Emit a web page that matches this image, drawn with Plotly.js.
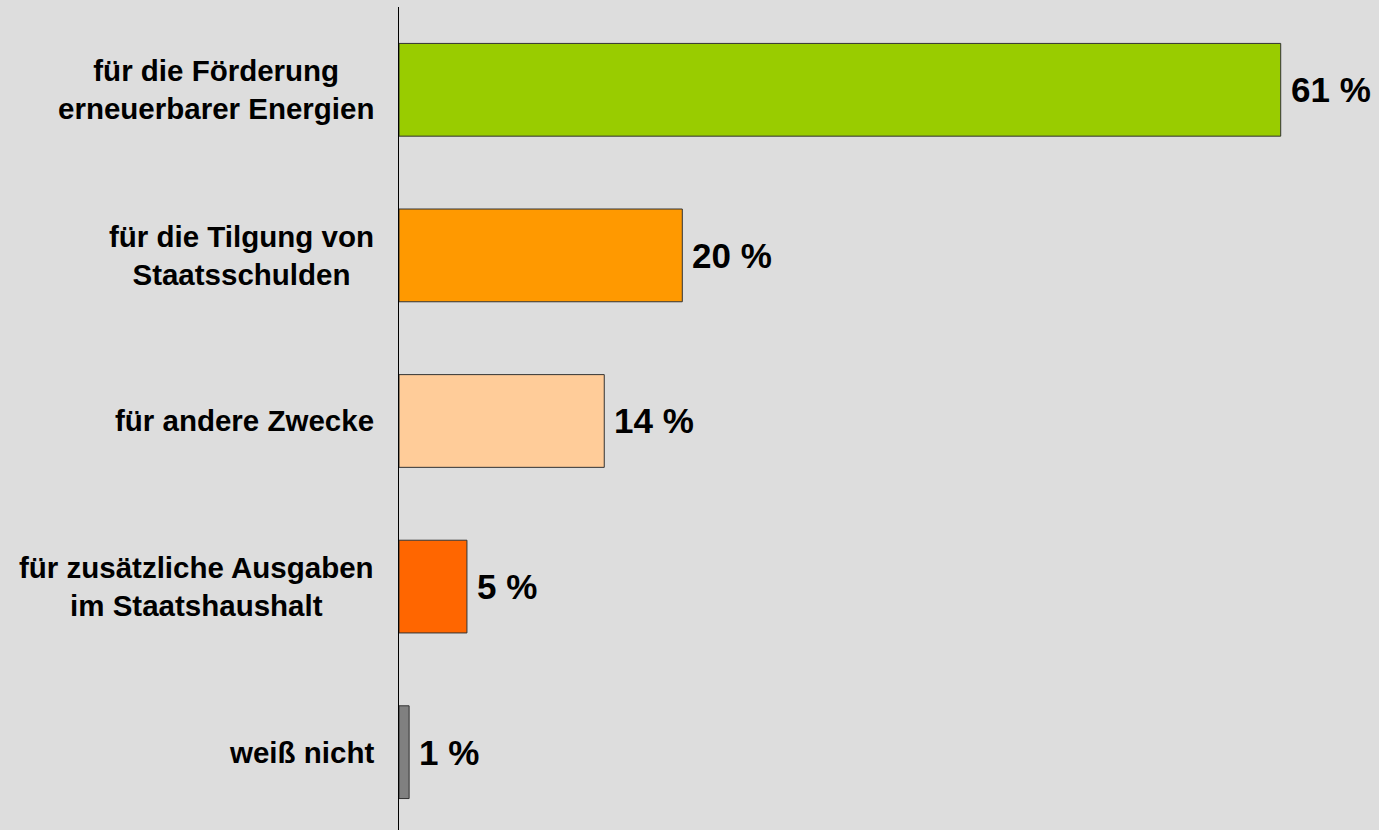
<!DOCTYPE html>
<html>
<head>
<meta charset="utf-8">
<script src="https://cdn.plot.ly/plotly-3.0.1.min.js"></script>
<style>html,body{margin:0;padding:0;background:#dddddd;}</style>
</head>
<body>
<div id="chart" style="width:1379px;height:830px;"></div>
<script>
const categories = [
  "für die Förderung<br>erneuerbarer Energien",
  "für die Tilgung von<br>Staatsschulden",
  "für andere Zwecke",
  "für zusätzliche Ausgaben<br>im Staatshaushalt",
  "weiß nicht"
];
const values = [61, 19.6, 14.2, 4.7, 0.7];
const valueLabels = ["61 %", "20 %", "14 %", "5 %", "1 %"];
const barColors = ["#99cc00", "#ff9900", "#ffcc99", "#ff6600", "#808080"];

const catIdx = categories.map((c, i) => i);

const trace = {
  type: "bar",
  orientation: "h",
  x: values,
  y: catIdx,
  width: 0.56,
  marker: { color: barColors, line: { color: "#333333", width: 1 } },
  hoverinfo: "skip"
};

const annotations = [];
categories.forEach((c, i) => {
  annotations.push({
    xref: "paper", yref: "y", x: 0, y: i,
    text: "<b>" + c + "</b>", showarrow: false,
    xanchor: "right", yanchor: "middle", align: "center",
    xshift: -23,
    font: { family: "Liberation Sans, Arial, sans-serif", size: 29.5, color: "#000000" }
  });
  annotations.push({
    xref: "x", yref: "y", x: values[i], y: i,
    text: "<b>" + valueLabels[i] + "</b>", showarrow: false,
    xanchor: "left", yanchor: "middle",
    xshift: 8,
    font: { family: "Liberation Sans, Arial, sans-serif", size: 35, color: "#000000" }
  });
});

const layout = {
  width: 1379, height: 830,
  margin: { l: 399, r: 0, t: 7, b: 0, pad: 0 },
  paper_bgcolor: "#dddddd",
  plot_bgcolor: "#dddddd",
  showlegend: false,
  xaxis: { range: [0, 67.8], visible: false, showgrid: false, zeroline: false, fixedrange: true },
  yaxis: {
    range: [4.47, -0.5], showticklabels: false, showgrid: false, zeroline: false,
    showline: true, linecolor: "#000000", linewidth: 1.3, ticks: "", fixedrange: true
  },
  annotations: annotations
};

Plotly.newPlot("chart", [trace], layout, { displayModeBar: false, staticPlot: true });
</script>
</body>
</html>
